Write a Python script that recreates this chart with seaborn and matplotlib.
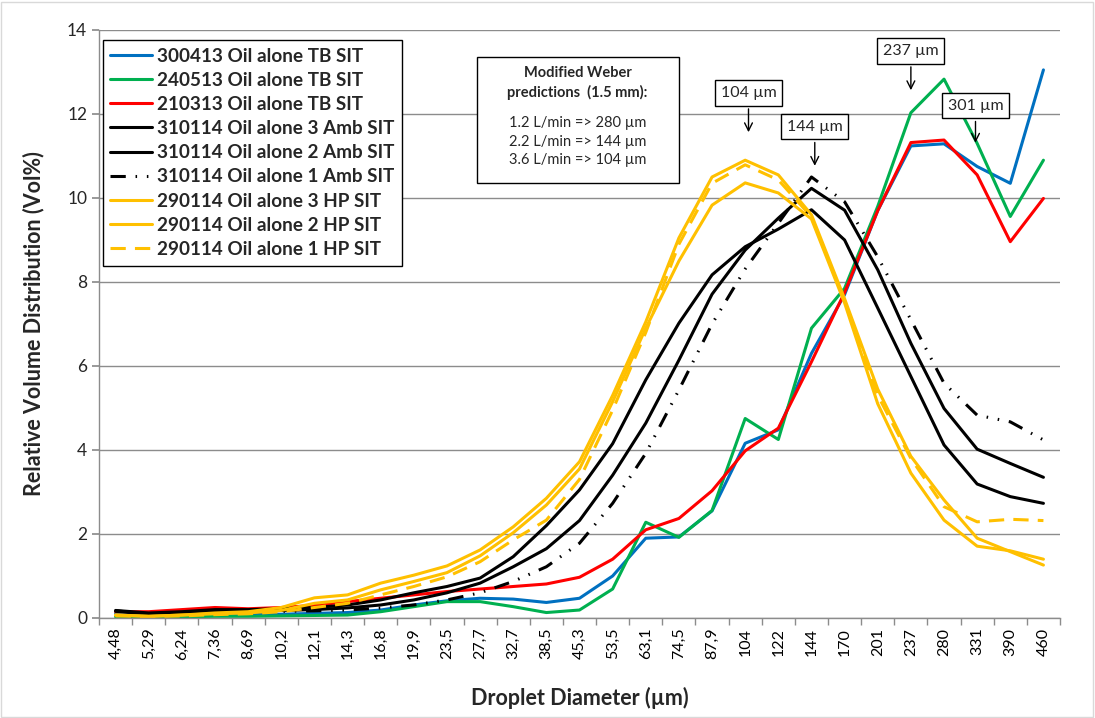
import numpy as np
import pandas as pd
import matplotlib
matplotlib.use('Agg')
import matplotlib.pyplot as plt
from matplotlib.patches import Rectangle
import seaborn as sns


# Droplet size classes (um) as printed on the axis
diameters = ['4,48', '5,29', '6,24', '7,36', '8,69', '10,2', '12,1', '14,3', '16,8', '19,9',
             '23,5', '27,7', '32,7', '38,5', '45,3', '53,5', '63,1', '74,5', '87,9', '104',
             '122', '144', '170', '201', '237', '280', '331', '390', '460']

# Relative volume distribution (Vol%) per run
tb_300413 = [0.10, 0.06, 0.06, 0.07, 0.08, 0.09, 0.11, 0.13, 0.19, 0.31, 0.41, 0.47, 0.45, 0.37, 0.47,
             1.00, 1.90, 1.93, 2.55, 4.16, 4.48, 6.30, 7.70, 9.70, 11.24, 11.29, 10.75, 10.35, 13.05]
tb_240513 = [0.03, 0.02, 0.03, 0.04, 0.04, 0.05, 0.06, 0.07, 0.15, 0.27, 0.39, 0.39, 0.27, 0.13, 0.19,
             0.69, 2.28, 1.92, 2.56, 4.75, 4.25, 6.90, 7.85, 9.80, 12.03, 12.83, 11.30, 9.56, 10.90]
tb_210313 = [0.15, 0.15, 0.20, 0.25, 0.22, 0.25, 0.30, 0.39, 0.47, 0.55, 0.63, 0.69, 0.75, 0.81, 0.97,
             1.40, 2.10, 2.37, 3.03, 3.98, 4.52, 6.10, 7.75, 9.70, 11.32, 11.38, 10.55, 8.96, 9.99]
amb_3 = [0.18, 0.12, 0.15, 0.20, 0.20, 0.22, 0.25, 0.31, 0.43, 0.60, 0.75, 0.95, 1.46, 2.20, 3.05,
         4.15, 5.67, 7.02, 8.17, 8.84, 9.26, 9.72, 9.00, 7.38, 5.75, 4.12, 3.19, 2.89, 2.73]
amb_2 = [0.16, 0.10, 0.12, 0.15, 0.16, 0.18, 0.20, 0.24, 0.31, 0.43, 0.60, 0.83, 1.22, 1.65, 2.32,
         3.40, 4.64, 6.14, 7.71, 8.76, 9.52, 10.23, 9.71, 8.29, 6.54, 4.99, 4.02, 3.68, 3.35]
amb_1 = [0.17, 0.10, 0.12, 0.14, 0.15, 0.16, 0.17, 0.19, 0.24, 0.31, 0.43, 0.60, 0.87, 1.22, 1.78,
         2.73, 3.92, 5.43, 7.00, 8.31, 9.40, 10.50, 9.91, 8.60, 7.10, 5.59, 4.83, 4.67, 4.24]
hp_3 = [0.07, 0.04, 0.07, 0.12, 0.15, 0.25, 0.48, 0.55, 0.83, 1.02, 1.24, 1.62, 2.17, 2.85, 3.72,
        5.30, 7.05, 9.05, 10.50, 10.90, 10.55, 9.60, 7.60, 5.45, 3.85, 2.81, 1.90, 1.58, 1.26]
hp_2 = [0.07, 0.04, 0.07, 0.10, 0.12, 0.18, 0.35, 0.43, 0.67, 0.87, 1.08, 1.48, 2.03, 2.69, 3.55,
        5.15, 6.90, 8.50, 9.83, 10.36, 10.12, 9.50, 7.50, 5.10, 3.45, 2.33, 1.71, 1.60, 1.40]
hp_1 = [0.05, 0.03, 0.05, 0.08, 0.10, 0.15, 0.25, 0.35, 0.55, 0.75, 0.98, 1.34, 1.86, 2.33, 3.30,
        4.95, 6.80, 8.90, 10.35, 10.79, 10.43, 9.55, 7.55, 5.30, 3.80, 2.65, 2.29, 2.35, 2.32]

labels = ['300413 Oil alone TB SIT', '240513 Oil alone TB SIT', '210313 Oil alone TB SIT',
          '310114 Oil alone 3 Amb SIT', '310114 Oil alone 2 Amb SIT', '310114 Oil alone 1 Amb SIT',
          '290114 Oil alone 3 HP SIT', '290114 Oil alone 2 HP SIT', '290114 Oil alone 1 HP SIT']
series = [tb_300413, tb_240513, tb_210313, amb_3, amb_2, amb_1, hp_3, hp_2, hp_1]
colors = ['#0070C0', '#00B050', '#FF0000', 'black', 'black', 'black', '#FFC000', '#FFC000', '#FFC000']
dash_styles = [None, None, None, None, None, (5, 3.2, 0.5, 3.2, 0.5, 3.2), None, None, (5, 3)]

# Annotation boxes: text, category position, box height, arrow tip
peak_notes = [('104 \u00b5m', 19.1, 12.5, 19.1, 11.5),
              ('144 \u00b5m', 21.1, 11.7, 21.1, 10.7),
              ('237 \u00b5m', 24.0, 13.5, 24.0, 12.5),
              ('301 \u00b5m', 25.95, 12.2, 25.95, 11.25)]

sns.set_theme(style='white')
plt.rcParams['font.family'] = ['Lato', 'DejaVu Sans']

fig, ax = plt.subplots(figsize=(10.95, 7.18), dpi=100)
fig.subplots_adjust(left=99 / 1095, right=1060 / 1095, top=1 - 30 / 718, bottom=1 - 618 / 718)

for vals, lab, col, ds in zip(series, labels, colors, dash_styles):
    sns.lineplot(x=diameters, y=vals, ax=ax, color=col, lw=2.2, label=lab, sort=False)
    if ds is not None:
        ax.lines[-1].set_dashes(ds)

ax.set_xlim(-0.5, len(diameters) - 0.5)
ax.set_ylim(0, 14)
ax.set_yticks(np.arange(0, 15, 2))
ax.yaxis.grid(True, color='#8c8c8c', lw=1)
ax.set_axisbelow(True)
for s in ['top', 'right']:
    ax.spines[s].set_visible(False)
for s in ['left', 'bottom']:
    ax.spines[s].set_color('#8c8c8c')
    ax.spines[s].set_linewidth(1)

ax.set_xticks(np.arange(len(diameters)))
ax.set_xticklabels(diameters, rotation=90, fontsize=11.5)
ax.set_xticks(np.arange(-0.5, len(diameters)), minor=True)
ax.tick_params(axis='x', which='major', length=0, pad=7, colors='black')
ax.tick_params(axis='x', which='minor', length=5, color='#8c8c8c', bottom=True)
ax.tick_params(axis='y', length=5, color='#8c8c8c', left=True, labelsize=12.5)

ax.set_xlabel('Droplet Diameter (\u00b5m)', fontsize=15.5, fontweight='bold', labelpad=20)
ax.set_ylabel('Relative Volume Distribution (Vol%)', fontsize=15.5, fontweight='bold', labelpad=16)

leg = ax.legend(loc='upper left', bbox_to_anchor=(0.004, 0.983), borderaxespad=0,
                prop={'weight': 'bold', 'size': 13.6}, handlelength=2.2, handletextpad=0.25,
                labelspacing=0.38, borderpad=0.4, fancybox=False, framealpha=1)
leg.get_frame().set_edgecolor('black')
leg.get_frame().set_linewidth(1)

# Modified Weber prediction box
ax.add_patch(Rectangle((0.393, 0.740), 0.211, 0.214, transform=ax.transAxes,
                       facecolor='white', edgecolor='black', lw=1, zorder=5))
ax.text(0.498, 0.910, 'Modified Weber\npredictions  (1.5 mm):', transform=ax.transAxes,
        ha='center', va='center', fontsize=10.5, fontweight='bold', linespacing=1.45, zorder=6)
ax.text(0.498, 0.810, '1.2 L/min => 280 \u00b5m\n2.2 L/min => 144 \u00b5m\n3.6 L/min => 104 \u00b5m',
        transform=ax.transAxes, ha='center', va='center', fontsize=10.5, linespacing=1.4, zorder=6)

for txt, bx, by, tx, ty in peak_notes:
    ax.annotate(txt, xy=(tx, ty), xytext=(bx, by), ha='center', va='center', fontsize=11.5,
                bbox=dict(boxstyle='square,pad=0.35', fc='white', ec='black', lw=1),
                arrowprops=dict(arrowstyle='->', color='black', lw=1, mutation_scale=14),
                zorder=6)

fig.patches.append(Rectangle((0.001, 0.002), 0.997, 0.995, transform=fig.transFigure,
                             fill=False, edgecolor='#d9d9d9', lw=1))

fig.savefig('out.png', dpi=100)
